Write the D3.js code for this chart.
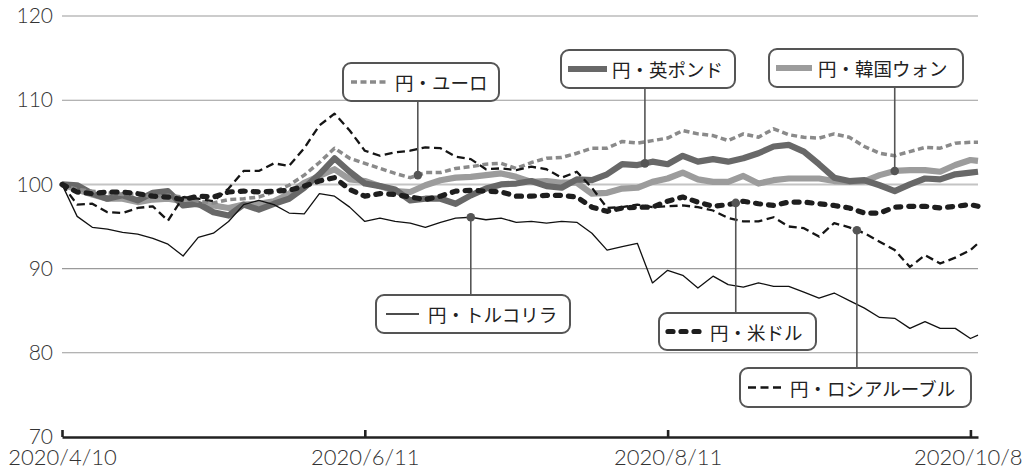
<!DOCTYPE html>
<html><head><meta charset="utf-8">
<script src="https://cdn.jsdelivr.net/npm/d3@7"></script>
<style>
html,body{margin:0;padding:0;background:#fff;}
svg{display:block;font-family:"Noto Sans CJK JP","Noto Sans",sans-serif;}
.tk{font-family:Lato,"Noto Sans",sans-serif;font-weight:300;}
</style></head><body>
<svg id="chart" width="1024" height="470"></svg>
<script>
// ---- data ----
const tickDays = [0, 40, 80, 120];
const tickLabels = ["2020/4/10", "2020/6/11", "2020/8/11", "2020/10/8"];
const yTicks = [70, 80, 90, 100, 110, 120];
// business-day index of every sample (every 2nd business day, plus the last day)
const sampleDays = d3.range(0, 121, 2).concat([121]);

const tryVals = [100,96.2,94.9,94.7,94.3,94.1,93.6,92.9,91.5,93.7,94.2,95.6,97.6,98.1,97.6,96.6,96.5,98.9,98.6,97.3,95.6,96.0,95.6,95.4,94.9,95.5,96.0,96.1,95.8,96.0,95.5,95.6,95.4,95.6,95.5,94.2,92.2,92.6,93.0,88.3,89.8,89.2,87.7,89.1,88.1,87.8,88.3,87.9,87.9,87.2,86.5,87.1,86.2,85.3,84.2,84.1,82.9,83.7,82.9,82.9,81.7,82.1];
const eurVals = [100,99.4,99.2,99.0,98.8,98.9,98.5,98.7,98.5,98.0,97.8,98.2,98.3,98.5,99.1,99.9,101.1,102.6,104.3,103.1,102.5,101.9,101.3,100.8,101.4,101.4,101.9,102.1,102.4,102.5,101.9,102.6,103.1,103.2,103.7,104.3,104.3,105.1,104.9,105.2,105.5,106.4,106.0,105.8,105.2,106.0,105.6,106.6,105.9,105.6,105.5,106.0,105.6,104.5,103.7,103.4,103.9,104.4,104.3,104.9,105.0,105.0];
const gbpVals = [100,99.9,98.9,98.3,98.7,98.1,99.0,99.2,97.5,97.7,96.7,96.3,97.6,97.0,97.7,98.3,99.6,101.2,103.1,101.5,100.1,99.8,99.4,98.1,98.3,98.3,97.7,98.7,99.5,100.0,100.1,100.4,99.8,99.6,100.6,100.5,101.2,102.4,102.3,102.7,102.4,103.4,102.7,103.0,102.7,103.1,103.7,104.5,104.7,103.9,102.4,100.8,100.4,100.5,99.9,99.2,100.0,100.7,100.6,101.2,101.4,101.5];
const krwVals = [100,99.4,98.8,98.3,98.3,97.9,98.2,98.3,98.0,97.6,97.5,97.2,97.6,97.7,98.0,98.9,100.2,101.0,101.8,100.6,100.4,99.8,99.2,99.1,99.9,100.5,100.8,100.9,101.1,101.3,100.9,100.3,100.4,100.2,100.2,98.9,99.0,99.5,99.6,100.3,100.7,101.4,100.6,100.3,100.3,101.0,100.1,100.5,100.7,100.7,100.7,100.4,100.3,100.4,101.1,101.6,101.7,101.7,101.5,102.3,102.9,102.8];
const usdVals = [100,99.1,98.9,99.1,99.1,98.9,98.6,98.5,98.2,98.6,98.5,99.1,99.2,99.1,99.2,99.3,99.8,100.4,100.8,99.4,98.6,98.9,98.8,98.5,98.2,98.6,99.2,99.3,99.2,99.1,98.6,98.6,98.7,98.7,98.5,97.3,96.8,97.2,97.3,97.3,98.0,98.5,97.9,97.4,97.6,98.0,97.7,97.5,97.9,97.9,97.7,97.5,97.2,96.6,96.6,97.3,97.4,97.4,97.2,97.4,97.6,97.4];
const rubVals = [100,97.6,97.7,96.7,96.6,97.2,97.4,95.7,98.5,98.3,98.0,99.5,101.6,101.6,102.5,102.2,104.3,107.0,108.4,106.4,104.0,103.4,103.8,104.0,104.4,104.3,103.3,103.0,101.8,101.9,101.7,102.1,101.8,100.8,101.5,99.6,97.2,97.3,97.6,97.3,97.4,97.5,97.3,96.9,96.0,95.6,95.6,96.1,95.0,94.8,93.8,95.4,94.9,94.2,93.2,92.2,90.2,91.6,90.6,91.3,92.2,93.0];

const seriesNames = {
  krw: "円・韓国ウォン", gbp: "円・英ポンド", eur: "円・ユーロ",
  try: "円・トルコリラ", rub: "円・ロシアルーブル", usd: "円・米ドル"
};
const seriesValues = {krw: krwVals, gbp: gbpVals, eur: eurVals, try: tryVals, rub: rubVals, usd: usdVals};
// day at which each callout points to its line
const anchorDays = {eur: 47, gbp: 77, krw: 110, try: 54, usd: 89, rub: 105};

// ---- styles / layout ----
const styles = {
  krw: {stroke: "#9c9c9c", width: 6.2, dash: null, cap: "butt"},
  gbp: {stroke: "#686868", width: 6.2, dash: null, cap: "butt"},
  eur: {stroke: "#8a8a8a", width: 3.5, dash: "6,3.5", cap: "butt"},
  try: {stroke: "#111", width: 1.3, dash: null, cap: "butt"},
  rub: {stroke: "#151515", width: 2.3, dash: "8,4.5", cap: "butt"},
  usd: {stroke: "#1e1e1e", width: 5.2, dash: "5,8", cap: "round"}
};
const drawOrder = ["krw", "gbp", "eur", "try", "rub", "usd"];
const boxes = {
  eur: {x: 343, y: 63, w: 156, h: 38, s0: 351, s1: 389, tx: 395, side: "top"},
  gbp: {x: 561, y: 50, w: 174, h: 38, s0: 568, s1: 607, tx: 612, side: "top"},
  krw: {x: 769, y: 49, w: 194, h: 38, s0: 776, s1: 812, tx: 818, side: "top"},
  try: {x: 376, y: 295, w: 194, h: 38, s0: 386, s1: 419, tx: 428, side: "bottom"},
  usd: {x: 659, y: 313, w: 157, h: 37, s0: 668, s1: 705, tx: 710, side: "bottom"},
  rub: {x: 740, y: 368, w: 231, h: 39, s0: 748, s1: 781, tx: 790, side: "bottom"}
};

const svg = d3.select("#chart");
const x = d3.scaleLinear().domain([0, 121]).range([62, 978]);
const y = d3.scaleLinear().domain([70, 120]).range([437, 16]);

// gridlines
svg.append("g").selectAll("line").data(yTicks.filter(v => v > 70)).join("line")
  .attr("x1", x(0)).attr("x2", x(121)).attr("y1", d => y(d)).attr("y2", d => y(d))
  .attr("stroke", d => d === 100 ? "#c4c4c4" : "#9a9a9a").attr("stroke-width", d => d === 100 ? 2 : 1.1);

// y labels
const gy = svg.append("g").attr("transform", "translate(62,0)")
  .call(d3.axisLeft(y).tickValues(yTicks).tickSize(0).tickPadding(9).tickFormat(d3.format("d")));
gy.selectAll(".domain").remove();
gy.selectAll(".tick line").remove();
gy.selectAll(".tick text").attr("class", "tk").attr("fill", "#333").style("font-size", "21px");

// lines
const line = vals => d3.line().x((d, i) => x(sampleDays[i])).y(d => y(d))(vals);
drawOrder.forEach(k => {
  const s = styles[k];
  svg.append("path").attr("d", line(seriesValues[k])).attr("fill", "none")
    .attr("stroke", s.stroke).attr("stroke-width", s.width)
    .attr("stroke-dasharray", s.dash).attr("stroke-linecap", s.cap).attr("stroke-linejoin", "round");
});

// x axis
const xAxis = d3.axisBottom(x).tickValues(tickDays).tickFormat((d, i) => tickLabels[i]).tickSizeInner(-7).tickSizeOuter(0).tickPadding(12);
const gx = svg.append("g").attr("transform", "translate(0,437)").call(xAxis);
gx.select(".domain").attr("stroke", "#222").attr("stroke-width", 2.6);
gx.selectAll(".tick line").attr("stroke", "#222").attr("stroke-width", 2.6);
gx.selectAll(".tick text").attr("class", "tk").attr("fill", "#333").style("font-size", "22px");
// keep the last label inside the picture
gx.selectAll(".tick text").filter((d, i) => i === tickLabels.length - 1)
  .attr("text-anchor", "end").attr("x", 1022 - x(tickDays[tickDays.length - 1]));

// callouts
function valueAt(vals, day) {
  for (let i = 0; i < sampleDays.length - 1; i++) {
    const a = sampleDays[i], b = sampleDays[i + 1];
    if (day >= a && day <= b) return vals[i] + (vals[i + 1] - vals[i]) * (day - a) / (b - a);
  }
  return vals[vals.length - 1];
}
Object.keys(boxes).forEach(k => {
  const b = boxes[k], s = styles[k];
  const ax = x(anchorDays[k]), ay = y(valueAt(seriesValues[k], anchorDays[k]));
  const ey = b.side === "top" ? b.y + b.h : b.y;
  const g = svg.append("g");
  g.append("line").attr("x1", ax).attr("x2", ax).attr("y1", ay).attr("y2", ey).attr("stroke", "#555").attr("stroke-width", 1.6);
  g.append("circle").attr("cx", ax).attr("cy", ay).attr("r", 4.3).attr("fill", "#555");
  g.append("rect").attr("x", b.x).attr("y", b.y).attr("width", b.w).attr("height", b.h).attr("rx", 8)
    .attr("fill", "#fff").attr("stroke", "#555").attr("stroke-width", 2);
  const cy = b.y + b.h / 2;
  g.append("line").attr("x1", b.s0).attr("x2", b.s1).attr("y1", cy).attr("y2", cy)
    .attr("stroke", s.stroke).attr("stroke-width", s.width).attr("stroke-dasharray", s.dash).attr("stroke-linecap", s.cap);
  g.append("text").attr("x", b.tx).attr("y", cy).attr("dominant-baseline", "central")
    .attr("fill", "#222").style("font-size", "18.5px").text(seriesNames[k]);
});
</script></body></html>
